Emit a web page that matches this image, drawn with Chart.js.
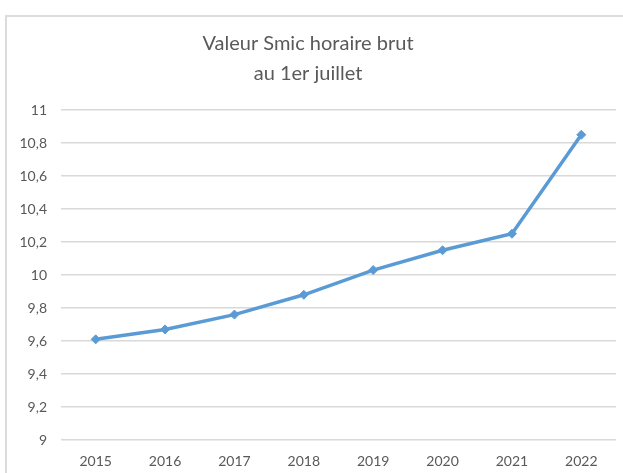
<!DOCTYPE html>
<html>
<head>
<meta charset="utf-8">
<script src="https://cdn.jsdelivr.net/npm/chart.js@4"></script>
<style>
    html, body { margin: 0; padding: 0; background: #ffffff; overflow: hidden; }
    #frame {
        position: absolute; left: 5px; top: 15px; width: 700px; height: 600px;
        border: 2px solid #dcdcdc; pointer-events: none;
    }
    #chart { position: absolute; left: 0; top: 0; }
</style>
</head>
<body>
<canvas id="chart" width="623" height="473"></canvas>
<div id="frame"></div>
<script>
// Données du graphique
const annees = ['2015', '2016', '2017', '2018', '2019', '2020', '2021', '2022'];
const smicHoraire = [9.61, 9.67, 9.76, 9.88, 10.03, 10.15, 10.25, 10.85];
const titre = ['Valeur Smic horaire brut', 'au 1er juillet'];

const couleurTexte = '#595959';
const couleurLigne = '#5B9BD5';

const ctx = document.getElementById('chart').getContext('2d');

new Chart(ctx, {
    type: 'line',
    data: {
        labels: annees,
        datasets: [{
            label: 'Smic',
            data: smicHoraire,
            borderColor: couleurLigne,
            backgroundColor: couleurLigne,
            borderWidth: 3.5,
            pointStyle: 'rectRot',
            pointRadius: 4.5,
            pointBorderWidth: 1,
            tension: 0,
            fill: false
        }]
    },
    options: {
        responsive: false,
        animation: false,
        layout: {
            padding: { left: 0, right: 7, top: 0, bottom: 0 }
        },
        scales: {
            x: {
                offset: true,
                grid: { display: false, offset: true },
                border: { display: false },
                ticks: {
                    color: couleurTexte,
                    font: { family: 'Lato', size: 14 },
                    padding: 5
                },
                afterFit: scale => { scale.height = 33; }
            },
            y: {
                min: 9,
                max: 11,
                grid: { color: '#d9d9d9', lineWidth: 1.5, drawTicks: false },
                border: { display: false },
                ticks: {
                    stepSize: 0.2,
                    color: couleurTexte,
                    font: { family: 'Lato', size: 14 },
                    padding: 14,
                    callback: value => (Math.round(value * 10) / 10).toString().replace('.', ',')
                },
                afterFit: scale => { scale.width = 61; }
            }
        },
        plugins: {
            legend: { display: false },
            tooltip: { enabled: false },
            title: {
                display: true,
                text: titre,
                color: couleurTexte,
                font: { family: 'Lato', size: 20, weight: 'normal', lineHeight: 1.5 },
                padding: { top: 29, bottom: 21 }
            }
        }
    }
});
</script>
</body>
</html>
